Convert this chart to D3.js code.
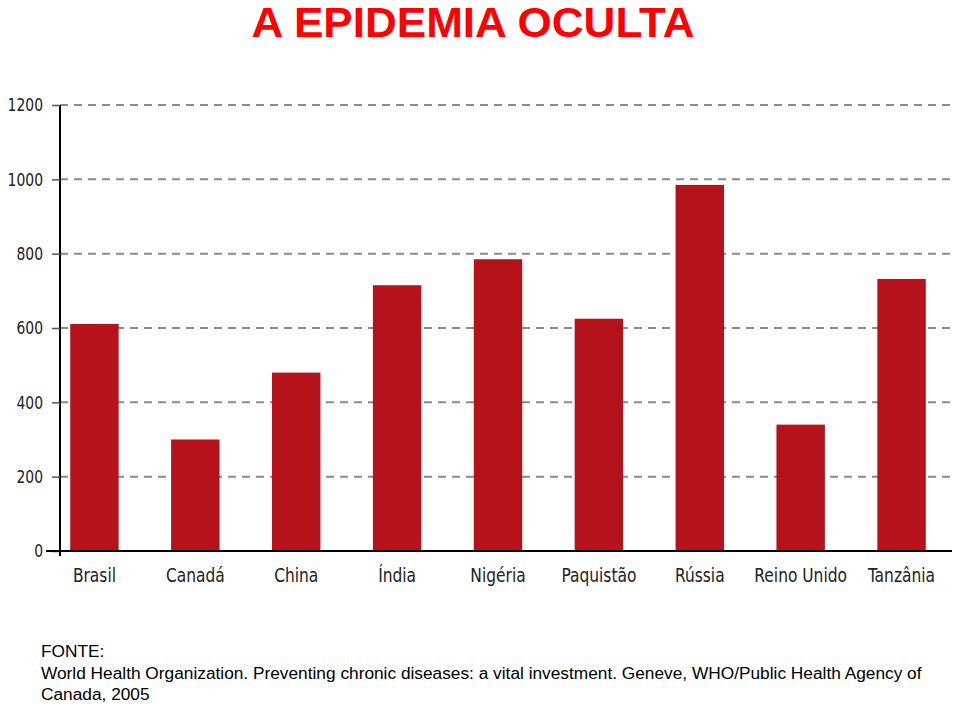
<!DOCTYPE html>
<html>
<head>
<meta charset="utf-8">
<script src="https://cdn.jsdelivr.net/npm/d3@7"></script>
<style>
  body { margin: 0; background: #fff; }
  svg { display: block; }
</style>
</head>
<body>
<svg id="chart" width="960" height="704"></svg>
<script>
const categories = ["Brasil", "Canadá", "China", "Índia", "Nigéria", "Paquistão", "Rússia", "Reino Unido", "Tanzânia"];
const values = [611, 300, 480, 715, 785, 625, 985, 340, 732];
const yTicks = [0, 200, 400, 600, 800, 1000, 1200];
const title = "A EPIDEMIA OCULTA";
const sourceLines = [
  "FONTE:",
  "World Health Organization. Preventing chronic diseases: a vital investment. Geneve, WHO/Public Health Agency of",
  "Canada, 2005"
];

const svg = d3.select("#chart");
const axisX = 60;
const plotRight = 952;

const x = d3.scaleBand()
  .domain(categories)
  .range([44, plotRight])
  .paddingInner(0.52)
  .paddingOuter(0.26);

const y = d3.scaleLinear()
  .domain([0, 1200])
  .range([551, 105]);

// Title
svg.append("text")
  .attr("x", 473)
  .attr("y", 37)
  .attr("text-anchor", "middle")
  .attr("font-family", "Liberation Sans, Arial, sans-serif")
  .attr("font-weight", "bold")
  .attr("font-size", 42)
  .attr("textLength", 443)
  .attr("lengthAdjust", "spacingAndGlyphs")
  .attr("fill", "#ff0000")
  .text(title);

// Gridlines
svg.append("g")
  .selectAll("line")
  .data(yTicks.filter(d => d > 0))
  .join("line")
  .attr("x1", axisX)
  .attr("x2", plotRight)
  .attr("y1", d => y(d))
  .attr("y2", d => y(d))
  .attr("stroke", "#8a8a8a")
  .attr("stroke-width", 2)
  .attr("stroke-dasharray", "8,6");

// Bars
svg.append("g")
  .selectAll("rect")
  .data(categories)
  .join("rect")
  .attr("x", d => x(d))
  .attr("y", (d, i) => y(values[i]))
  .attr("width", x.bandwidth())
  .attr("height", (d, i) => y(0) - y(values[i]))
  .attr("fill", "#b5121b");

// Y axis
const yAxis = svg.append("g")
  .attr("transform", `translate(${axisX},0)`)
  .call(d3.axisLeft(y).tickValues(yTicks).tickSize(8).tickPadding(9).tickFormat(d3.format("d")));
yAxis.select(".domain").attr("d", `M0,${y(1200)}V${y(0) + 5}`).attr("stroke", "#000").attr("stroke-width", 2);
yAxis.selectAll(".tick line").attr("stroke", "#555").attr("stroke-width", 1.5);
yAxis.selectAll(".tick text")
  .attr("x", null)
  .attr("transform", "translate(-17,0) scale(0.86,1)")
  .attr("font-family", "DejaVu Sans Condensed, DejaVu Sans, sans-serif")
  .attr("font-size", 18)
  .attr("fill", "#222");

// X axis
const xAxis = svg.append("g")
  .attr("transform", `translate(0,${y(0)})`)
  .call(d3.axisBottom(x).tickSize(0).tickPadding(14));
xAxis.select(".domain").attr("d", `M46,0H${plotRight}`).attr("stroke", "#000").attr("stroke-width", 2);
xAxis.selectAll(".tick text")
  .attr("y", null)
  .attr("dy", null)
  .attr("transform", "translate(0,31) scale(0.86,1)")
  .attr("font-family", "DejaVu Sans Condensed, DejaVu Sans, sans-serif")
  .attr("font-size", 20)
  .attr("fill", "#222");

// Source
svg.append("g")
  .selectAll("text")
  .data(sourceLines)
  .join("text")
  .attr("x", 41)
  .attr("y", (d, i) => 657 + i * 21.5)
  .attr("font-family", "Liberation Sans, Arial, sans-serif")
  .attr("font-size", 17.3)
  .attr("fill", "#000")
  .text(d => d);
</script>
</body>
</html>
